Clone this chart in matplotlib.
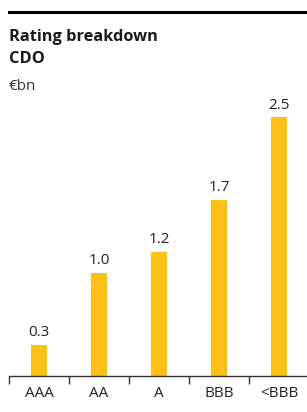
import matplotlib.pyplot as plt
from matplotlib.lines import Line2D

categories = ['AAA', 'AA', 'A', 'BBB', '<BBB']
values = [0.3, 1.0, 1.2, 1.7, 2.5]
value_labels = ['0.3', '1.0', '1.2', '1.7', '2.5']

plt.rcParams['font.family'] = ['Open Sans', 'DejaVu Sans']

W, H = 307, 412
fig = plt.figure(figsize=(W / 100, H / 100), dpi=100)

# rule at the top
fig.add_artist(Line2D([9 / W, 1.0], [1 - 12 / H, 1 - 12 / H], color='black', lw=2.2))
fig.text(9 / W, 1 - 37 / H, 'Rating breakdown', fontsize=11.8, fontweight='bold',
         color='#1a1a1a', va='center')
fig.text(9 / W, 1 - 59 / H, 'CDO', fontsize=11.8, fontweight='bold',
         color='#1a1a1a', va='center')
fig.text(9 / W, 1 - 87 / H, '€bn', fontsize=11, color='#333333', va='center')

ax = fig.add_axes([9 / W, 36 / H, 300 / W, 266 / H])
x = range(len(categories))
bars = ax.bar(x, values, width=0.28, color='#fdc018')
ax.set_xlim(-0.5, 4.5)
ax.set_ylim(0, 266 / 103.5)

for xi, v, lab in zip(x, values, value_labels):
    ax.text(xi, v + 0.045, lab, ha='center', va='bottom', fontsize=11, color='#222222')

for s in ['top', 'right', 'left']:
    ax.spines[s].set_visible(False)
ax.spines['bottom'].set_color('#333333')
ax.spines['bottom'].set_linewidth(1)
ax.set_yticks([])
ax.set_xticks(list(x))
ax.set_xticklabels(categories, fontsize=11, color='#222222')
ax.tick_params(axis='x', which='major', length=0, pad=7)
ax.set_xticks([i - 0.5 for i in range(len(categories) + 1)], minor=True)
ax.tick_params(axis='x', which='minor', length=6, width=1, color='#333333', direction='out')

fig.savefig('out.png', dpi=100)
